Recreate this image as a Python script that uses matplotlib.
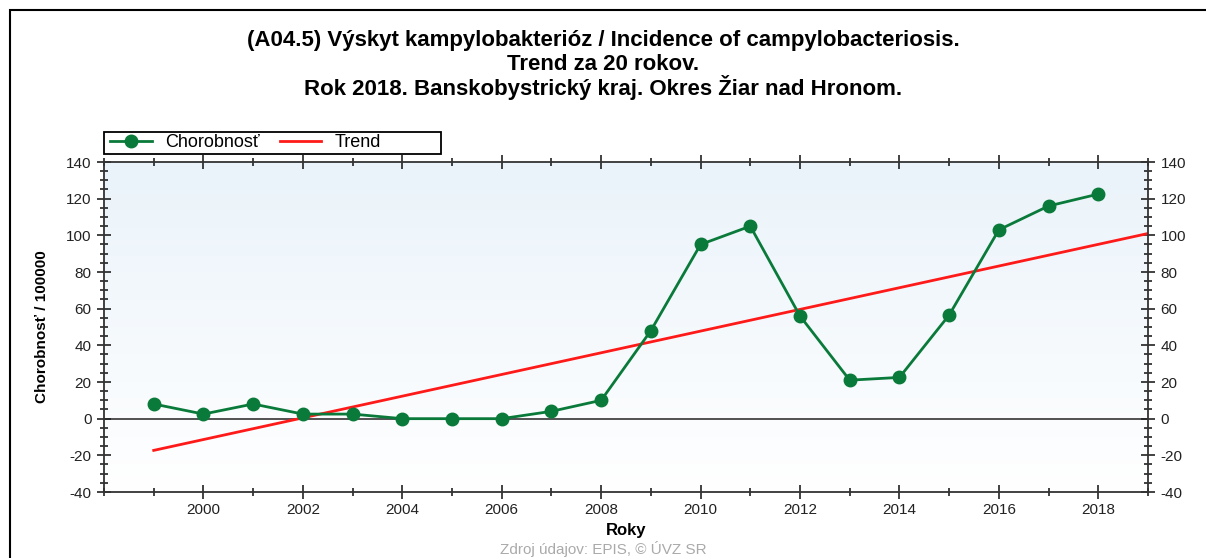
import numpy as np
import matplotlib
matplotlib.use("Agg")
from matplotlib import pyplot as plt
from matplotlib.patches import Rectangle
from matplotlib.ticker import MultipleLocator, FixedLocator

plt.rcParams['font.family'] = ['Liberation Sans', 'DejaVu Sans']
plt.rcParams['axes.unicode_minus'] = False

# data
roky = [1999, 2000, 2001, 2002, 2003, 2004, 2005, 2006, 2007, 2008,
        2009, 2010, 2011, 2012, 2013, 2014, 2015, 2016, 2017, 2018]
chorobnost = [8, 2.5, 8, 2.5, 2.5, 0, 0, 0, 4, 10,
              48, 95, 105, 56, 21, 22.5, 56.5, 103, 116, 122.5]
trend_roky = [1999, 2019]
trend_hodnoty = [-17.3, 101]
x_popisky = [2000, 2002, 2004, 2006, 2008, 2010, 2012, 2014, 2016, 2018]

titul = ["(A04.5) Výskyt kampylobakterióz / Incidence of campylobacteriosis.",
         "Trend za 20 rokov.",
         "Rok 2018. Banskobystrický kraj. Okres Žiar nad Hronom."]

fig = plt.figure(figsize=(12.06, 5.58), dpi=100)
W, H = 1206, 558
ax = fig.add_axes([104 / W, 1 - 492 / H, (1148 - 104) / W, (492 - 162) / H])

# ramik okolo grafu
fig.add_artist(Rectangle((10 / W, -0.1), 1.2, 1 - 10 / H + 0.1, transform=fig.transFigure,
                         fill=False, edgecolor='black', linewidth=1.5))

# pozadie s prechodom
grad = np.linspace(0, 1, 256).reshape(-1, 1)
cmap = matplotlib.colors.LinearSegmentedColormap.from_list('bg', ['#ffffff', '#eaf3fa'])
ax.imshow(grad, aspect='auto', cmap=cmap, origin='lower',
          extent=[1998, 2019, -40, 140], zorder=0)

ax.axhline(0, color='#444444', linewidth=1.3, zorder=1)
ax.plot(trend_roky, trend_hodnoty, color='#ff1a1a', linewidth=2, label='Trend', zorder=2)
ax.plot(roky, chorobnost, color='#0a7a3a', linewidth=2, marker='o', markersize=9,
        label='Chorobnosť', zorder=3)

ax.set_xlim(1998, 2019)
ax.set_ylim(-40, 140)
ax.xaxis.set_major_locator(FixedLocator(x_popisky))
ax.xaxis.set_minor_locator(MultipleLocator(1))
ax.yaxis.set_major_locator(MultipleLocator(20))
ax.yaxis.set_minor_locator(MultipleLocator(5))
ax.tick_params(which='both', direction='inout', top=True, right=True,
               labelright=True, labelsize=11, colors='#222222')
ax.tick_params(which='major', length=10, width=1.2)
ax.tick_params(which='minor', length=6, width=1.2)
ax.tick_params(axis='y', which='major', pad=4)
ax.tick_params(axis='x', which='major', pad=3)
for s in ax.spines.values():
    s.set_color('#333333')
    s.set_linewidth(1.3)

ax.set_xlabel('Roky', fontsize=12, fontweight='bold', labelpad=4)
ax.set_ylabel('Chorobnosť / 100000', fontsize=11, fontweight='bold', labelpad=12)

# legenda nad grafom
h, l = ax.get_legend_handles_labels()
fig.legend(h[::-1], l[::-1], loc='center left', ncol=2,
           bbox_to_anchor=(110 / W, 1 - 143 / H), fontsize=13, frameon=False,
           borderpad=0, borderaxespad=0, handlelength=2.3, handletextpad=0.75,
           columnspacing=1.1)
fig.add_artist(Rectangle((104 / W, 1 - 154 / H), (441 - 104) / W, 22 / H,
                         transform=fig.transFigure, fill=False, edgecolor='black',
                         linewidth=1.3))

for txt, y in zip(titul, [46, 70, 95]):
    fig.text(0.5, 1 - y / H, txt, ha='center', va='baseline', fontsize=16,
             fontweight='bold')
fig.text(0.5, 1 - 549 / H, 'Zdroj údajov: EPIS, © ÚVZ SR', ha='center', va='center',
         fontsize=11, color='#aaaaaa')

plt.savefig('out.png', dpi=100)
